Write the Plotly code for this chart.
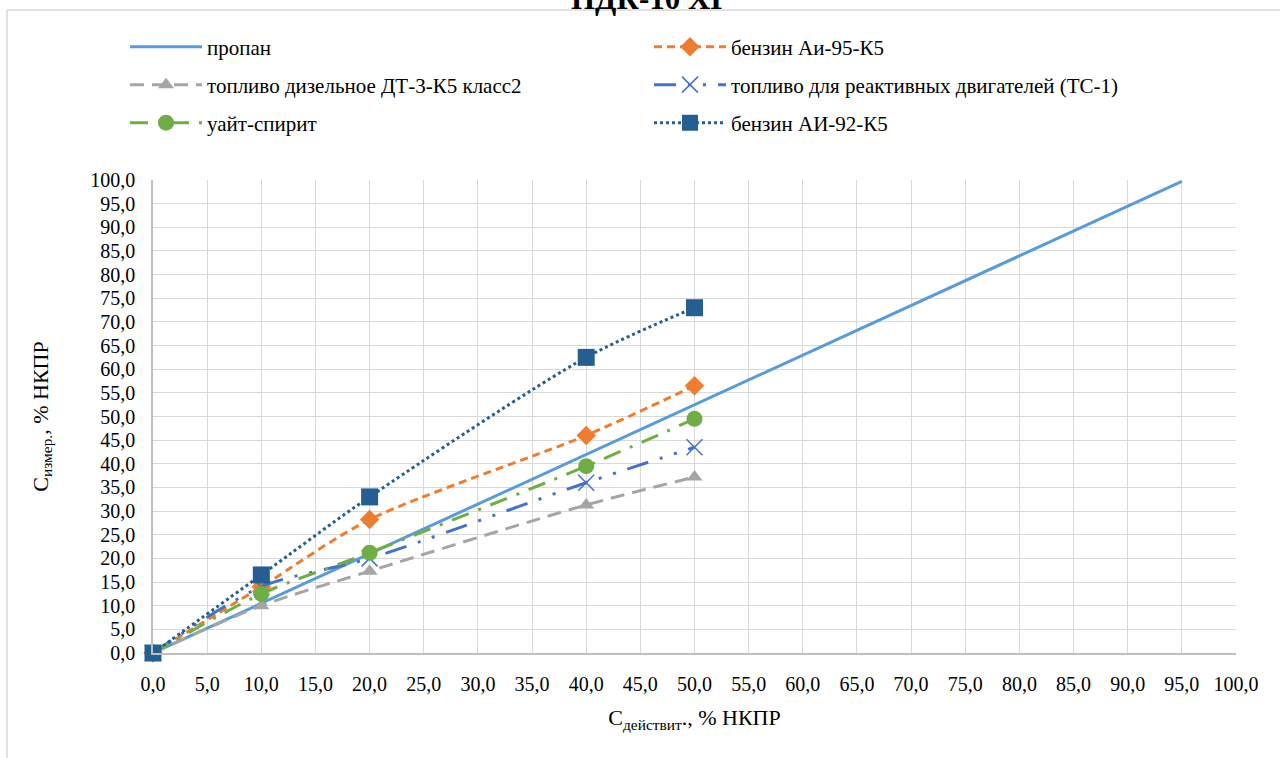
import plotly.graph_objects as go

# ---- data ----
propane_x = [0, 10, 20, 40, 50, 95]
propane_y = [0, 10.5, 21.0, 42.0, 52.5, 99.7]

x_pts = [0, 10, 20, 40, 50]
ai95_y = [0, 14.0, 28.2, 46.0, 56.5]
diesel_y = [0, 10.0, 17.3, 31.3, 37.2]
tc1_y = [0, 14.0, 20.0, 36.0, 43.5]
spirit_y = [0, 12.5, 21.2, 39.5, 49.5]
ai92_y = [0, 16.5, 33.0, 62.5, 73.0]

names = ["пропан", "бензин Аи-95-К5", "топливо дизельное ДТ-3-К5 класс2",
         "топливо для реактивных двигателей (ТС-1)", "уайт-спирит", "бензин АИ-92-К5"]
title_text = "ПДК-10 ХГ"

FONT = "Times New Roman, Times, Liberation Serif, Tinos, Nimbus Roman, FreeSerif, DejaVu Serif, serif"
W, H = 1280, 758
L, R, T, B = 153, 1236, 180, 653  # plot area pixels

def px_x(p):
    return (p - L) / (R - L)

def px_y(p):
    return (B - p) / (B - T)

fig = go.Figure()

fig.add_trace(go.Scatter(x=propane_x, y=propane_y, name=names[0], mode="lines",
                         line=dict(color="#5B9BD5", width=3), legend="legend"))
fig.add_trace(go.Scatter(x=x_pts, y=ai95_y, name=names[1], mode="lines+markers",
                         line=dict(color="#ED7D31", width=3, dash="8px,5px", shape="spline", smoothing=0.8),
                         marker=dict(symbol="diamond", size=15, color="#ED7D31"), legend="legend"))
fig.add_trace(go.Scatter(x=x_pts, y=diesel_y, name=names[2], mode="lines+markers",
                         line=dict(color="#A5A5A5", width=3, dash="14px,8px", shape="spline", smoothing=0.8),
                         marker=dict(symbol="triangle-up", size=14, color="#A5A5A5"), legend="legend2"))
fig.add_trace(go.Scatter(x=x_pts, y=tc1_y, name=names[3], mode="lines+markers",
                         line=dict(color="#4472C4", width=3, dash="22px,12px,3px,12px,3px,12px", shape="spline", smoothing=0.8),
                         marker=dict(symbol="x-thin", size=16, color="#4472C4", line=dict(width=1.5, color="#4472C4")),
                         legend="legend2"))
fig.add_trace(go.Scatter(x=x_pts, y=spirit_y, name=names[4], mode="lines+markers",
                         line=dict(color="#70AD47", width=3, dash="18px,10px,3px,10px", shape="spline", smoothing=0.8),
                         marker=dict(symbol="circle", size=16, color="#70AD47"), legend="legend3"))
fig.add_trace(go.Scatter(x=x_pts, y=ai92_y, name=names[5], mode="lines+markers",
                         line=dict(color="#255E91", width=3, dash="dot", shape="spline", smoothing=0.8),
                         marker=dict(symbol="square", size=17, color="#255E91"), legend="legend3"))

for tr in fig.data:
    tr.cliponaxis = False

leg_common = dict(orientation="h", xref="paper", yref="paper",
                  xanchor="left", yanchor="middle", entrywidth=437, entrywidthmode="pixels",
                  font=dict(family=FONT, size=21, color="#000000"), bgcolor="rgba(0,0,0,0)",
                  itemwidth=72)

fig.update_layout(
    width=W, height=H,
    paper_bgcolor="white", plot_bgcolor="white",
    separators=", ",
    margin=dict(l=L, r=W - R, t=T, b=H - B, autoexpand=False),
    font=dict(family=FONT, size=21, color="#000000"),
    legend=dict(x=px_x(125), y=px_y(47), **leg_common),
    legend2=dict(x=px_x(125), y=px_y(85), **leg_common),
    legend3=dict(x=px_x(125), y=px_y(123), **leg_common),
    xaxis=dict(range=[0, 100], dtick=5, tick0=0, tickformat=".1f",
               showgrid=True, gridcolor="#D9D9D9", gridwidth=1,
               showline=True, linecolor="#BFBFBF", linewidth=1.5, zeroline=False,
               ticks="", tickfont=dict(family=FONT, size=20), ticklabelstandoff=12,
               title=dict(text="C<sub>действит</sub>., % НКПР", font=dict(family=FONT, size=22), standoff=16)),
    yaxis=dict(range=[0, 100], dtick=5, tick0=0, tickformat=".1f",
               showgrid=True, gridcolor="#D9D9D9", gridwidth=1,
               showline=True, linecolor="#BFBFBF", linewidth=1.5, zeroline=False,
               ticks="", tickfont=dict(family=FONT, size=20), ticklabelstandoff=12,
               title=dict(text="C<sub>измер.</sub>, % НКПР", font=dict(family=FONT, size=22), standoff=36)),
    showlegend=True,
)

# title (partly cut off at the top edge as in the reference)
fig.add_annotation(text="<b>" + title_text + "</b>", xref="paper", yref="paper",
                   x=px_x(650), y=px_y(18), xanchor="center", yanchor="bottom",
                   showarrow=False, font=dict(family=FONT, size=31, color="#000000"))

# chart-area border (Excel style)
fig.add_shape(type="line", xref="paper", yref="paper", x0=px_x(7), x1=px_x(1300),
              y0=px_y(10), y1=px_y(10), line=dict(color="#D9D9D9", width=1.5), layer="below")
fig.add_shape(type="line", xref="paper", yref="paper", x0=px_x(7), x1=px_x(7),
              y0=px_y(10), y1=px_y(770), line=dict(color="#D9D9D9", width=1.5), layer="below")

fig.write_html("out.html", config={"displayModeBar": False},
               post_script="document.body.style.margin='0px';")
